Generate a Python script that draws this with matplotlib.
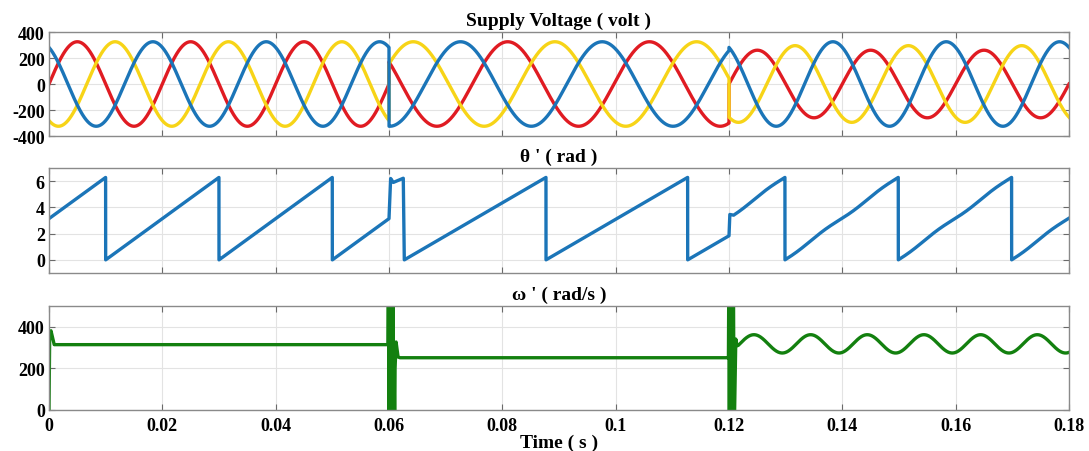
import numpy as np
import matplotlib
matplotlib.use("Agg")
import matplotlib.pyplot as plt

# ---------------- data ----------------
SEG_BOUNDS = [0.0, 0.06, 0.12, 0.18]          # s
SEG_FREQ = [50.0, 40.0, 50.0]                  # Hz, supply frequency per segment
SEG_TREF = [0.0, 0.0497, 0.12]                 # s, instant where phase-a angle is 0
AMP_RED = [325, 325, 260]                      # V
AMP_YEL = [325, 325, 295]
AMP_BLU = [325, 325, 325]
PHASE_SHIFT = [0.0, -2 * np.pi / 3, 2 * np.pi / 3]   # red, yellow, blue

# theta' : reset instants (theta = 0) of the steady ramps
THETA_ZERO = [0.01, 0.0627, 0.13]
THETA_FREQ = [50.0, 40.0, 50.0]
THETA_TR1_T = [0.06029, 0.06076, 0.06252, 0.0627]
THETA_TR1_V = [6.20, 5.90, 6.22, 0.0]
THETA_TR2_T = [0.12015, 0.1208]
THETA_TR2_V = [3.46, 3.40]

# omega' : levels and transients
OMEGA_LEVEL = [314.2, 251.3, 318.0]            # rad/s
OMEGA_RIPPLE_AMP = 44.0                        # rad/s (segment 3)
OMEGA_RIPPLE_FREQ = 100.0                      # Hz
OMEGA_RIPPLE_PEAK = 0.1244                     # s
OMEGA_START_T = [0.0, 0.00012, 0.00035, 0.0009]
OMEGA_START_V = [0.0, 360.0, 381.0, 314.2]
OMEGA_TR1_T = [0.0598, 0.05990, 0.06000, 0.06010, 0.06020, 0.06030, 0.06040,
               0.06050, 0.06060, 0.06070, 0.06080, 0.06090, 0.06100, 0.06107,
               0.06125, 0.0616, 0.0619]
OMEGA_TR1_V = [314.2, 700, -200, 700, -200, 700, -200, 700, -200, 700, -200,
               240, -150, 200, 327, 255, 251.3]
OMEGA_TR2_T = [0.1199, 0.11998, 0.12006, 0.12014, 0.12022, 0.12030, 0.12038,
               0.12046, 0.12054, 0.12062, 0.12070, 0.12078, 0.12090, 0.1212,
               0.1214, 0.1216]
OMEGA_TR2_V = [251.3, 700, -200, 700, -200, 700, -200, 700, -200, 700, -200,
               650, -150, 341, 309, 310]

X_TICKS = [0, 0.02, 0.04, 0.06, 0.08, 0.10, 0.12, 0.14, 0.16, 0.18]
X_TICK_LABELS = ['0', '0.02', '0.04', '0.06', '0.08', '0.1', '0.12', '0.14', '0.16', '0.18']
V_TICKS = [-400, -200, 0, 200, 400]
TH_TICKS = [0, 2, 4, 6]
W_TICKS = [0, 200, 400]

TITLES = ['Supply Voltage ( volt )', "θ ' ( rad )", "ω ' ( rad/s )"]
XLABEL = 'Time ( s )'

C_RED = '#E01B22'
C_YEL = '#F7D417'
C_BLU = '#1B75B8'
C_GRN = '#13800F'

# ---------------- build curves ----------------
DT = 1e-5

# voltages
tv, vr, vy, vb = [], [], [], []
for k in range(3):
    t = np.arange(SEG_BOUNDS[k], SEG_BOUNDS[k + 1] + DT / 2, DT)
    w = 2 * np.pi * SEG_FREQ[k]
    ang = w * (t - SEG_TREF[k])
    tv.append(t)
    vr.append(AMP_RED[k] * np.sin(ang + PHASE_SHIFT[0]))
    vy.append(AMP_YEL[k] * np.sin(ang + PHASE_SHIFT[1]))
    vb.append(AMP_BLU[k] * np.sin(ang + PHASE_SHIFT[2]))
tv = np.concatenate(tv); vr = np.concatenate(vr)
vy = np.concatenate(vy); vb = np.concatenate(vb)

# theta
t1 = np.arange(0.0, 0.06 + DT / 2, DT)
th1 = np.mod(2 * np.pi * THETA_FREQ[0] * (t1 - THETA_ZERO[0]) + 1e-9, 2 * np.pi)
t2 = np.arange(THETA_ZERO[1], 0.12 + DT / 2, DT)
th2 = np.mod(2 * np.pi * THETA_FREQ[1] * (t2 - THETA_ZERO[1]), 2 * np.pi)
t3 = np.arange(THETA_TR2_T[-1], 0.18 + DT / 2, DT)
wr = 2 * np.pi * OMEGA_RIPPLE_FREQ
rip = OMEGA_RIPPLE_AMP / wr * (np.sin(wr * (t3 - OMEGA_RIPPLE_PEAK))
                               - np.sin(wr * (t3[0] - OMEGA_RIPPLE_PEAK)))
th3 = np.mod(THETA_TR2_V[-1] + 2 * np.pi * THETA_FREQ[2] * (t3 - t3[0]) + rip, 2 * np.pi)
tth = np.concatenate([t1, THETA_TR1_T, t2, THETA_TR2_T, t3])
vth = np.concatenate([th1, THETA_TR1_V, th2, THETA_TR2_V, th3])

# omega
tw1 = np.arange(OMEGA_START_T[-1], OMEGA_TR1_T[0], DT)
tw2 = np.arange(OMEGA_TR1_T[-1], OMEGA_TR2_T[0], DT)
tw3 = np.arange(OMEGA_TR2_T[-1], 0.18 + DT / 2, DT)
w3 = OMEGA_LEVEL[2] + OMEGA_RIPPLE_AMP * np.cos(wr * (tw3 - OMEGA_RIPPLE_PEAK))
tw = np.concatenate([OMEGA_START_T, tw1, OMEGA_TR1_T, tw2, OMEGA_TR2_T, tw3])
vw = np.concatenate([OMEGA_START_V, np.full(tw1.size, OMEGA_LEVEL[0]), OMEGA_TR1_V,
                     np.full(tw2.size, OMEGA_LEVEL[1]), OMEGA_TR2_V, w3])

# ---------------- figure ----------------
plt.rcParams['font.family'] = ['Liberation Serif', 'DejaVu Serif']
plt.rcParams['font.weight'] = 'bold'
plt.rcParams['axes.unicode_minus'] = False

fig = plt.figure(figsize=(10.89, 4.52), dpi=100)
L, W = 49 / 1089, 1020 / 1089
boxes = [(33, 137), (169, 274), (307, 411)]
axes = []
for (top, bot) in boxes:
    ax = fig.add_axes([L, 1 - bot / 452, W, (bot - top) / 452])
    axes.append(ax)

LW = 2.4
axes[0].plot(tv, vr, color=C_RED, lw=LW)
axes[0].plot(tv, vy, color=C_YEL, lw=LW)
axes[0].plot(tv, vb, color=C_BLU, lw=LW)
axes[0].set_ylim(-400, 400)
axes[0].set_yticks(V_TICKS)

axes[1].plot(tth, vth, color=C_BLU, lw=LW)
axes[1].set_ylim(-1, 7)
axes[1].set_yticks(TH_TICKS)

axes[2].plot(tw, vw, color=C_GRN, lw=LW)
axes[2].set_ylim(0, 500)
axes[2].set_yticks(W_TICKS)

for i, ax in enumerate(axes):
    ax.set_xlim(0, 0.18)
    ax.set_xticks(X_TICKS)
    if i == 2:
        ax.set_xticklabels(X_TICK_LABELS)
    else:
        ax.set_xticklabels([])
    ax.grid(True, color='#e3e3e3', lw=0.8)
    ax.set_axisbelow(True)
    for s in ax.spines.values():
        s.set_color('#8a8a8a')
        s.set_linewidth(1.0)
    ax.tick_params(direction='in', top=True, right=True, length=4,
                   color='#6a6a6a', labelsize=13, pad=3)
    ax.tick_params(axis='x', pad=5)
    for lab in ax.get_xticklabels() + ax.get_yticklabels():
        lab.set_fontweight('bold')
    ax.set_title(TITLES[i], fontsize=14, fontweight='bold', pad=5)

axes[2].set_xlabel(XLABEL, fontsize=14, fontweight='bold', labelpad=0)

fig.savefig('out.png', dpi=100)
